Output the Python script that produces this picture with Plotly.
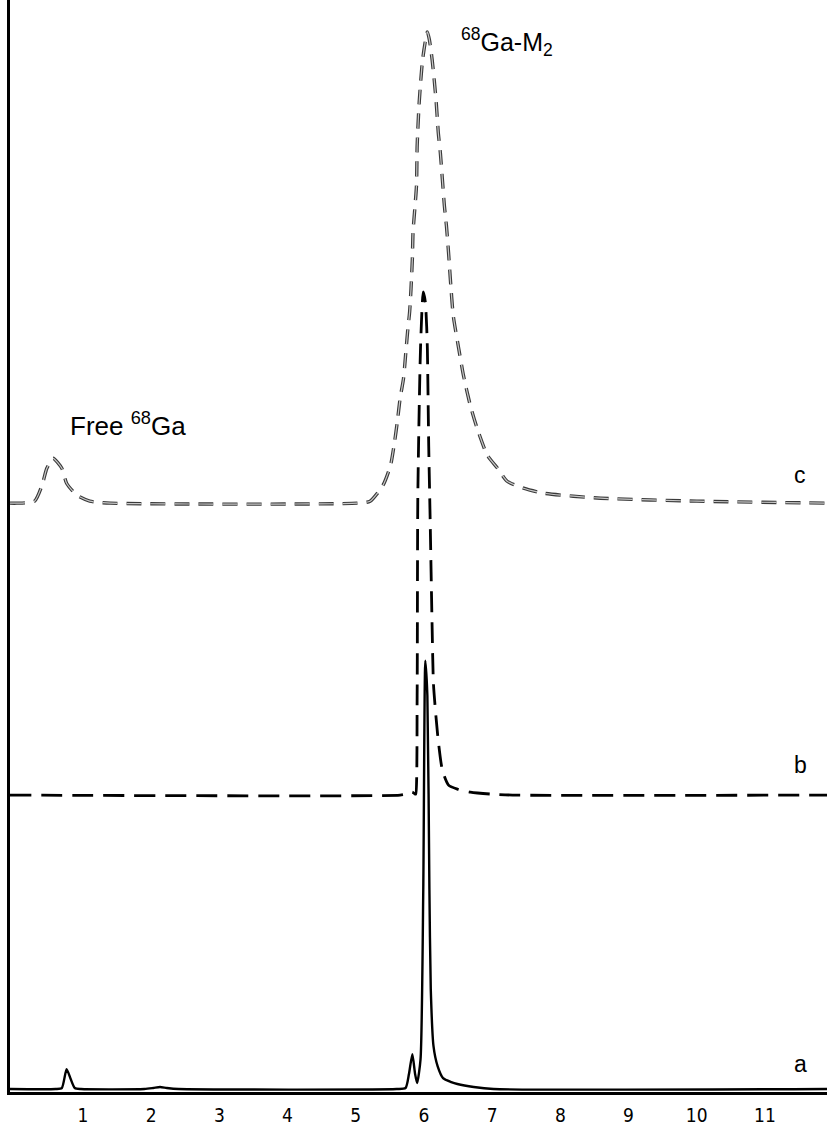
import plotly.graph_objects as go

# ---- data (retention time in min, signal in arbitrary units above each trace baseline) ----
tick_vals = [1, 2, 3, 4, 5, 6, 7, 8, 9, 10, 11]
tick_text = ["1", "2", "3", "4", "5", "6", "7", "8", "9", "10", "11"]

# trace a (solid)
a_time = [-0.07, 0.60, 0.69, 0.76, 0.82, 0.88, 0.97, 1.9, 2.03, 2.13, 2.23, 2.4,
          5.6, 5.73, 5.78, 5.83, 5.87, 5.90, 5.95, 5.99, 6.02, 6.05, 6.08, 6.10,
          6.14, 6.20, 6.28, 6.40, 6.49, 6.73, 7.02, 11.91]
a_sig = [0, 0, 1, 20, 10, 1, 0, 0, 1, 2, 1, 0,
         0, 1, 15, 35, 15, 6, 30, 200, 430, 395, 200, 100,
         43, 23, 11, 7, 5, 2, 0, 0]

# trace b (long dashes)
b_time = [-0.07, 5.65, 5.73, 5.78, 5.83, 5.87, 5.88, 5.90, 5.91, 5.95, 5.99,
          6.02, 6.04, 6.05, 6.07, 6.09, 6.12, 6.14, 6.20, 6.27, 6.36, 6.49,
          6.68, 6.98, 7.3, 11.91]
b_sig = [0, 0, 1, 3, 3, 1, 1, 100, 300, 450, 505,
         495, 470, 448, 350, 280, 168, 111, 61, 25, 10, 6,
         3, 1, 0, 0]

# trace c (short hollow dashes)
c_time = [-0.07, 0.03, 0.29, 0.40, 0.47, 0.56, 0.69, 0.76, 0.91, 1.10, 1.4,
          5.02, 5.21, 5.40, 5.51, 5.57, 5.61, 5.65, 5.70, 5.73, 5.76, 5.79,
          5.81, 5.83, 5.84, 5.89, 5.90, 5.93, 5.98, 6.05, 6.08, 6.12, 6.15,
          6.18, 6.21, 6.24, 6.27, 6.30, 6.33, 6.36, 6.39, 6.43, 6.51, 6.58,
          6.68, 6.78, 6.93, 7.08, 7.22, 7.46, 7.75, 8.59, 10.0, 11.91]
c_sig = [0, 0, 2, 18, 35, 45, 35, 20, 8, 2, 0,
         0, 2, 18, 38, 62, 82, 105, 125, 148, 172, 192,
         215, 245, 272, 318, 358, 402, 445, 473, 465, 445, 425,
         402, 372, 352, 325, 298, 278, 252, 222, 188, 155, 128,
         98, 75, 48, 35, 22, 15, 10, 5, 2, 0]

# vertical stacking offsets of the three chromatograms
offset_a = 3
offset_b = 298
offset_c = 591

fig = go.Figure()

fig.add_trace(go.Scatter(
    x=a_time, y=[v + offset_a for v in a_sig], mode="lines",
    line=dict(color="black", width=2.4, shape="spline", smoothing=0.6),
    showlegend=False, hoverinfo="skip"))

fig.add_trace(go.Scatter(
    x=b_time, y=[v + offset_b for v in b_sig], mode="lines",
    line=dict(color="black", width=2.8, dash="21px,10px", shape="spline", smoothing=0.6),
    showlegend=False, hoverinfo="skip"))

# c drawn as outlined grey dashes: dark wide stroke + light thin stroke on top
fig.add_trace(go.Scatter(
    x=c_time, y=[v + offset_c for v in c_sig], mode="lines",
    line=dict(color="#3a3a3a", width=3.4, dash="15px,9px", shape="spline", smoothing=0.6),
    showlegend=False, hoverinfo="skip"))
fig.add_trace(go.Scatter(
    x=c_time, y=[v + offset_c for v in c_sig], mode="lines",
    line=dict(color="#c8c8c8", width=1.2, dash="15px,9px", shape="spline", smoothing=0.6),
    showlegend=False, hoverinfo="skip"))

font_big = dict(family="Liberation Sans, Arial, sans-serif", size=26, color="black")
font_big2 = dict(family="Liberation Sans, Arial, sans-serif", size=25, color="black")
font_lbl = dict(family="Liberation Sans, Arial, sans-serif", size=23, color="black")
annotations = [
    dict(x=1.66, y=670, text="Free <sup>68</sup>Ga", showarrow=False, font=font_big),
    dict(x=7.22, y=1054, text="<sup>68</sup>Ga-M<sub>2</sub>", showarrow=False, font=font_big2),
    dict(x=11.52, y=619, text="c", showarrow=False, font=font_lbl),
    dict(x=11.52, y=328, text="b", showarrow=False, font=font_lbl),
    dict(x=11.52, y=28, text="a", showarrow=False, font=font_lbl),
]

fig.update_layout(
    width=827, height=1126,
    margin=dict(l=10, r=0, t=0, b=30),
    paper_bgcolor="white", plot_bgcolor="white",
    annotations=annotations,
    xaxis=dict(range=[-0.07, 11.91], tickvals=tick_vals, ticktext=tick_text,
               showgrid=False, zeroline=False, showline=True, linecolor="black",
               linewidth=3, ticks="", ticklabelstandoff=4,
               tickfont=dict(family="DejaVu Sans Condensed, DejaVu Sans, sans-serif",
                             size=19, color="black")),
    yaxis=dict(range=[0, 1096], showgrid=False, zeroline=False, showline=True,
               linecolor="black", linewidth=2.5, showticklabels=False, ticks=""),
)

fig.write_html("out.html", config={"displayModeBar": False},
               post_script="document.body.style.margin='0';")
